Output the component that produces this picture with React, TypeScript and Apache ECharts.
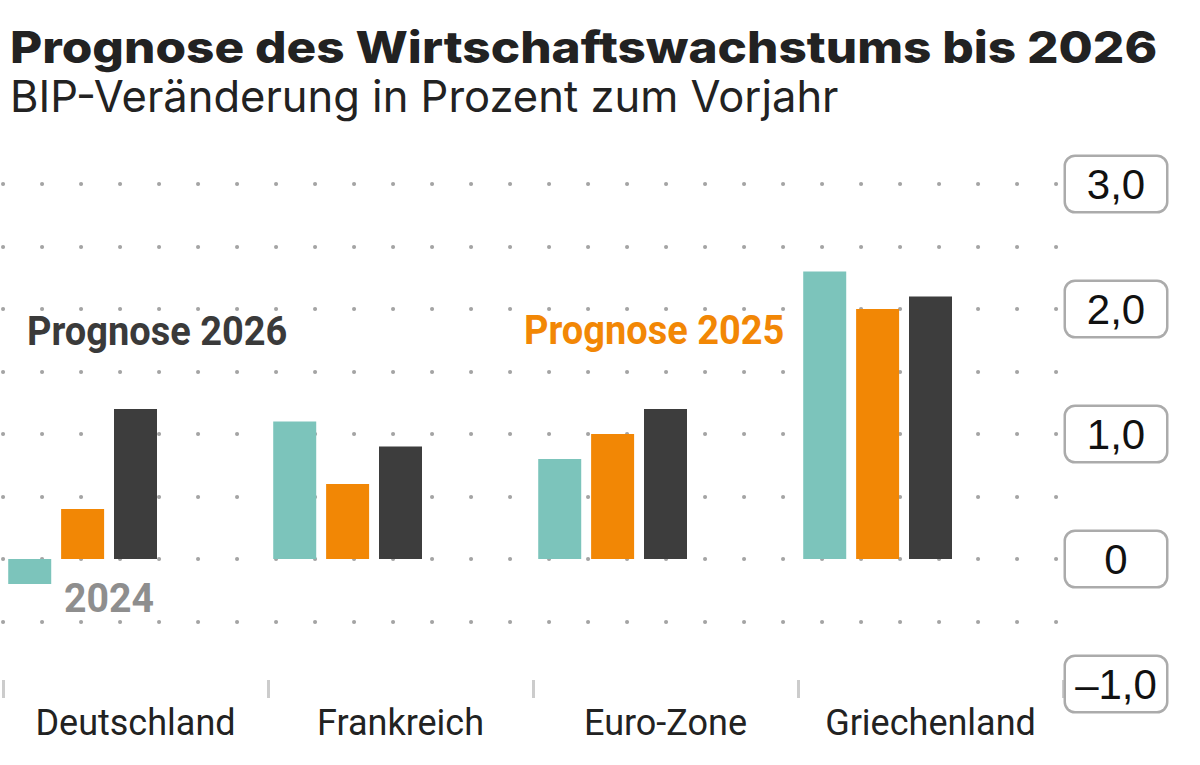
import React, { useEffect, useRef } from 'react';
import * as echarts from 'echarts';

const categories = ['Deutschland', 'Frankreich', 'Euro-Zone', 'Griechenland'];
const values2024 = [-0.2, 1.1, 0.8, 2.3];
const values2025 = [0.4, 0.6, 1.0, 2.0];
const values2026 = [1.2, 0.9, 1.2, 2.1];
const yMin = -1;
const yMax = 3;

const titleText = 'Prognose des Wirtschaftswachstums bis 2026';
const subtitleText = 'BIP-Veränderung in Prozent zum Vorjahr';

function fmt(v: number): string {
  if (v === 0) return '0';
  return (v < 0 ? '\u2013' : '') + Math.abs(v).toFixed(1).replace('.', ',');
}

export default function App() {
  const ref = useRef<HTMLDivElement>(null);
  useEffect(() => {
    const chart = echarts.init(ref.current!, null, { renderer: 'svg' });
    const base = { type: 'bar', barWidth: 43, barGap: '23%', silent: true, z: 5 };
    const dotColors = ['rgba(0,0,0,0)'];
    for (let i = 0; i < 8; i++) dotColors.push('#a4a4a4');
    chart.setOption({
      animation: false,
      grid: { left: 3, right: 137, top: 184, bottom: 81, containLabel: false },
      xAxis: {
        type: 'category',
        data: categories,
        offset: -4,
        axisLine: { show: false, onZero: false },
        axisTick: { show: true, interval: 0, length: 18, lineStyle: { color: '#cccccc', width: 3 } },
        axisLabel: { interval: 0, fontSize: 36, color: '#222', fontFamily: 'Roboto', margin: 25 },
      },
      yAxis: [
        {
          type: 'value',
          position: 'right',
          min: yMin,
          max: yMax,
          interval: 1,
          axisLine: { show: false },
          axisTick: { show: false },
          splitLine: { show: false },
          axisLabel: {
            margin: 53,
            align: 'center',
            verticalAlign: 'middle',
            width: 100,
            height: 54,
            lineHeight: 54,
            borderWidth: 2.5,
            borderColor: '#ababab',
            borderRadius: 9,
            backgroundColor: '#fff',
            fontSize: 42,
            fontFamily: 'Liberation Sans',
            color: '#111',
            formatter: (v: number) => fmt(v),
          },
        },
        {
          type: 'value',
          position: 'left',
          min: yMin,
          max: yMax,
          interval: 0.5,
          axisLine: { show: false },
          axisTick: { show: false },
          axisLabel: { show: false },
          splitLine: {
            show: true,
            lineStyle: { color: dotColors, width: 4, type: [0.1, 38.9], cap: 'round' },
          },
        },
      ],
      series: [
        { ...base, name: '2024', data: values2024, itemStyle: { color: '#7cc4bb' } },
        { ...base, name: '2025', data: values2025, itemStyle: { color: '#f28705' } },
        { ...base, name: '2026', data: values2026, itemStyle: { color: '#3d3d3d' } },
        { ...base, name: 'p1', data: [] },
        { ...base, name: 'p2', data: [] },
      ],
      graphic: [
        {
          type: 'text',
          x: 10,
          y: 47,
          scaleX: 1.125,
          style: { text: titleText, fill: '#222', fontSize: 44, fontWeight: 800, fontFamily: 'Inter', verticalAlign: 'middle', align: 'left' },
        },
        {
          type: 'text',
          x: 10,
          y: 96,
          style: { text: subtitleText, fill: '#222', fontSize: 43.5, fontWeight: 400, fontFamily: 'Inter', verticalAlign: 'middle', align: 'left' },
        },
        {
          type: 'text',
          x: 27,
          y: 332,
          scaleX: 0.95,
          style: { text: 'Prognose 2026', fill: '#3a3a3a', fontSize: 40, fontWeight: 700, fontFamily: 'Roboto', verticalAlign: 'middle', align: 'left' },
        },
        {
          type: 'text',
          x: 524,
          y: 331,
          scaleX: 0.95,
          style: { text: 'Prognose 2025', fill: '#f28705', fontSize: 40, fontWeight: 700, fontFamily: 'Roboto', verticalAlign: 'middle', align: 'left' },
        },
        {
          type: 'text',
          x: 64,
          y: 598,
          scaleX: 0.98,
          style: { text: '2024', fill: '#8e8e8e', fontSize: 40, fontWeight: 700, fontFamily: 'Roboto', verticalAlign: 'middle', align: 'left' },
        },
      ],
    });
    return () => chart.dispose();
  }, []);
  return <div ref={ref} style={{ position: 'fixed', left: 0, top: 0, width: 1200, height: 765, background: '#fff' }} />;
}
